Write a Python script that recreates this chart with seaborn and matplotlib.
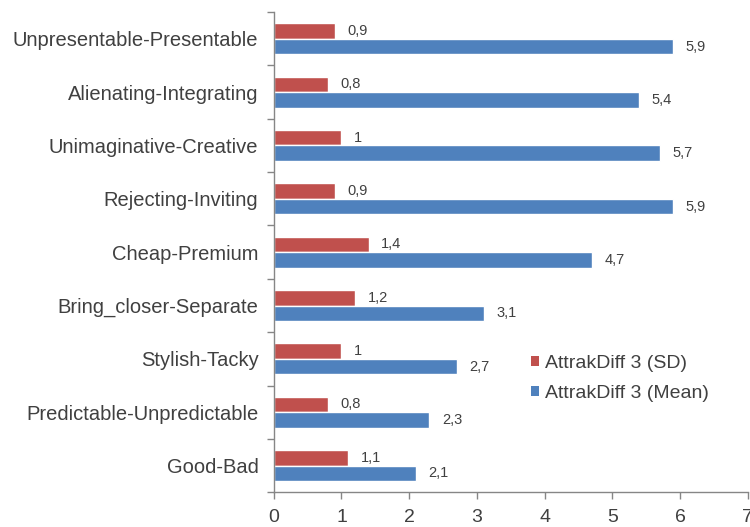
import pandas as pd
import seaborn as sns
import matplotlib.pyplot as plt
from matplotlib.patches import Patch
from matplotlib.ticker import FixedLocator

# values
categories = [
    "Unpresentable-Presentable",
    "Alienating-Integrating",
    "Unimaginative-Creative",
    "Rejecting-Inviting",
    "Cheap-Premium",
    "Bring_closer-Separate",
    "Stylish-Tacky",
    "Predictable-Unpredictable",
    "Good-Bad",
]
sd_values = [0.9, 0.8, 1.0, 0.9, 1.4, 1.2, 1.0, 0.8, 1.1]
mean_values = [5.9, 5.4, 5.7, 5.9, 4.7, 3.1, 2.7, 2.3, 2.1]
series = ["AttrakDiff 3 (SD)", "AttrakDiff 3 (Mean)"]
colors = ["#C0504D", "#4F81BD"]
x_ticks = [0, 1, 2, 3, 4, 5, 6, 7]

rows = []
for cat, sd, mean in zip(categories, sd_values, mean_values):
    rows.append({"item": cat, "value": sd, "series": series[0]})
    rows.append({"item": cat, "value": mean, "series": series[1]})
df = pd.DataFrame(rows)

sns.set_style("white")
plt.rcParams["font.family"] = ["Liberation Sans", "DejaVu Sans"]
text_color = "#404040"
axis_color = "#868686"

fig = plt.figure(figsize=(7.5, 5.27), dpi=100)
ax = fig.add_axes([0.365, 0.066, 0.632, 0.911])

sns.barplot(data=df, x="value", y="item", hue="series", order=categories,
            hue_order=series, palette=colors, orient="h", width=0.58,
            saturation=1, ax=ax, legend=False)

# value labels, decimal comma like the original
for container in ax.containers:
    labels = [f"{v:g}".replace(".", ",") for v in container.datavalues]
    ax.bar_label(container, labels=labels, padding=9, fontsize=10.5,
                 color=text_color)

ax.set_xlim(0, 7)
ax.set_xticks(x_ticks)
ax.set_ylim(len(categories) - 0.5, -0.5)
ax.set_xlabel("")
ax.set_ylabel("")

# category ticks sit between the groups, as in Excel
ax.yaxis.set_minor_locator(FixedLocator([i + 0.5 for i in range(-1, len(categories))]))
ax.tick_params(axis="y", which="major", length=0, pad=11, labelsize=14.5,
               labelcolor=text_color)
ax.tick_params(axis="y", which="minor", length=5, width=1, color=axis_color,
               left=True)
ax.tick_params(axis="x", which="major", length=5, width=1, color=axis_color,
               bottom=True, pad=7, labelsize=14, labelcolor=text_color)

for side in ["top", "right"]:
    ax.spines[side].set_visible(False)
for side in ["left", "bottom"]:
    ax.spines[side].set_color(axis_color)
    ax.spines[side].set_linewidth(1)

handles = [Patch(facecolor=c, edgecolor="none") for c in colors]
fig.legend(handles, series, loc="upper left", bbox_to_anchor=(0.685, 0.36),
           frameon=False, fontsize=14, handlelength=0.42, handleheight=0.42,
           handletextpad=0.3, labelspacing=0.7, labelcolor=text_color)

fig.savefig("out.png", dpi=100)
